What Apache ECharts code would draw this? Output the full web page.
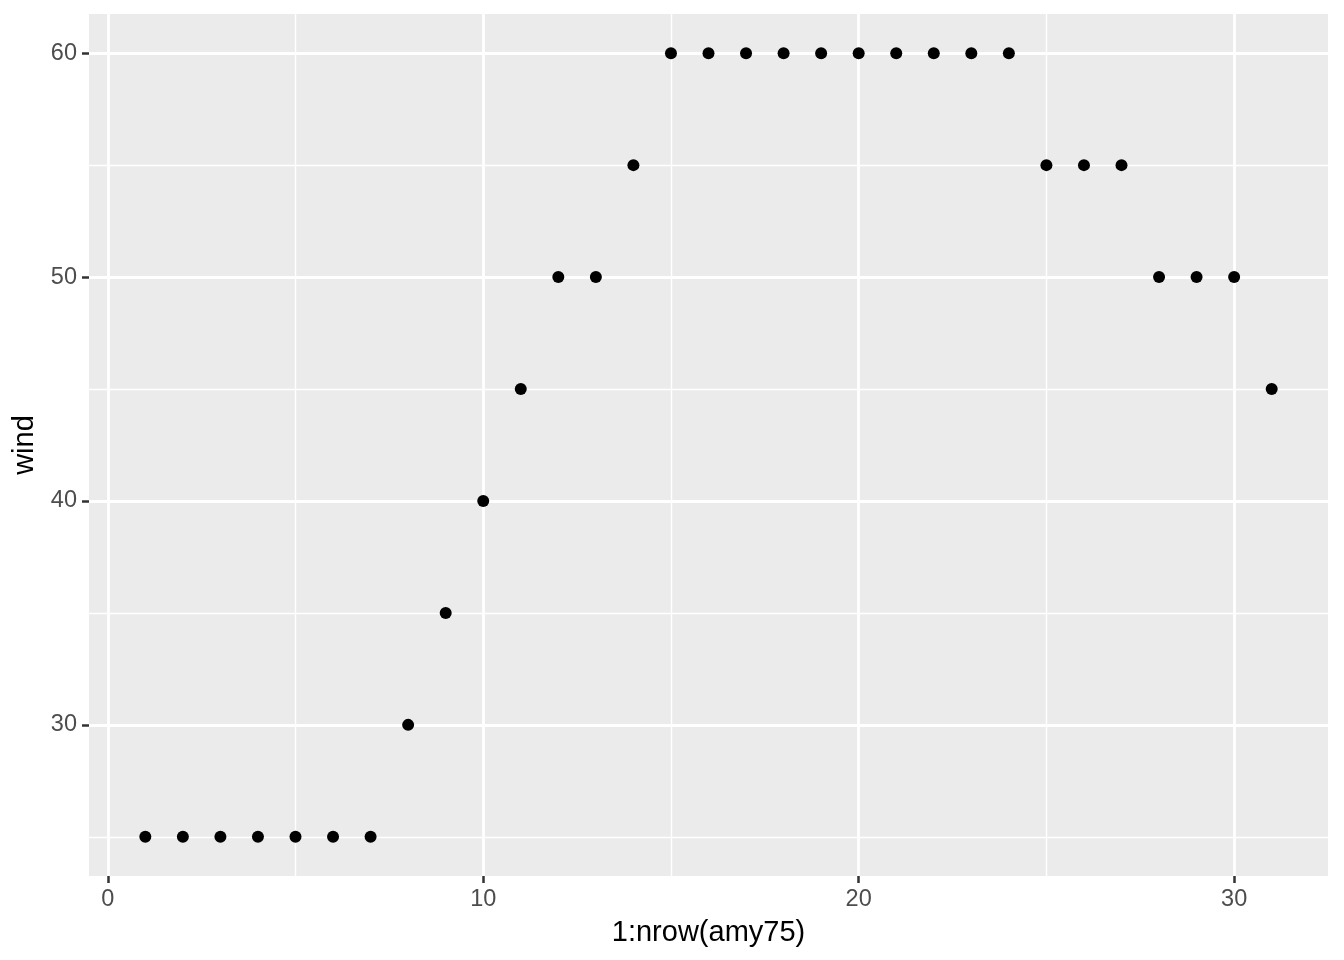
<!DOCTYPE html>
<html><head><meta charset="utf-8">
<script src="https://cdn.jsdelivr.net/npm/echarts@6/dist/echarts.min.js"></script>
<style>html,body{margin:0;padding:0;background:#fff}#c{width:1344px;height:960px}</style>
</head><body><div id="c"></div>
<script>
const rowIndex = [1,2,3,4,5,6,7,8,9,10,11,12,13,14,15,16,17,18,19,20,21,22,23,24,25,26,27,28,29,30,31];
const wind = [25,25,25,25,25,25,25,30,35,40,45,50,50,55,60,60,60,60,60,60,60,60,60,60,55,55,55,50,50,50,45];
const xTicks = [0,10,20,30];
const yTicks = [30,40,50,60];
const xTitle = '1:nrow(amy75)';
const yTitle = 'wind';

const pts = rowIndex.map((x,i)=>[x, wind[i]]);
const font = 'Liberation Sans, Arial, sans-serif';
const chart = echarts.init(document.getElementById('c'), null, {renderer:'canvas'});
chart.setOption({
  animation:false,
  backgroundColor:'#fff',
  grid:{left:89,right:16,top:14,bottom:84,show:true,backgroundColor:'#EBEBEB',borderWidth:0,containLabel:false},
  xAxis:{type:'value',min:-0.5,max:32.5,splitNumber:3,
    name:xTitle,nameLocation:'middle',nameGap:42,
    nameTextStyle:{color:'#000',fontSize:29,fontFamily:font},
    axisLine:{show:true,onZero:false,lineStyle:{color:'rgba(0,0,0,0)',width:0}},
    axisTick:{show:true,length:7,lineStyle:{color:'#333',width:2.5}},
    axisLabel:{color:'#4D4D4D',fontSize:23.5,fontFamily:font,margin:12,showMinLabel:false,showMaxLabel:false,
      formatter:v=>xTicks.includes(v)?String(v):''},
    splitLine:{show:true,showMinLine:false,showMaxLine:false,lineStyle:{color:'#fff',width:2.8}},
    minorTick:{show:false,splitNumber:2},
    minorSplitLine:{show:true,lineStyle:{color:'#fff',width:1.4}}
  },
  yAxis:{type:'value',min:23.25,max:61.75,splitNumber:4,
    name:yTitle,nameLocation:'middle',nameGap:49,nameRotate:90,
    nameTextStyle:{color:'#000',fontSize:29,fontFamily:font},
    axisLine:{show:true,onZero:false,lineStyle:{color:'rgba(0,0,0,0)',width:0}},
    axisTick:{show:true,length:7,lineStyle:{color:'#333',width:2.5}},
    axisLabel:{color:'#4D4D4D',fontSize:23.5,fontFamily:font,margin:12,showMinLabel:false,showMaxLabel:false,
      formatter:v=>yTicks.includes(v)?String(v):''},
    splitLine:{show:true,showMinLine:false,showMaxLine:false,lineStyle:{color:'#fff',width:2.8}},
    minorTick:{show:false,splitNumber:2},
    minorSplitLine:{show:true,lineStyle:{color:'#fff',width:1.4}}
  },
  series:[{type:'scatter',data:pts,symbolSize:12,itemStyle:{color:'#000',opacity:1},silent:true}]
});
</script></body></html>
